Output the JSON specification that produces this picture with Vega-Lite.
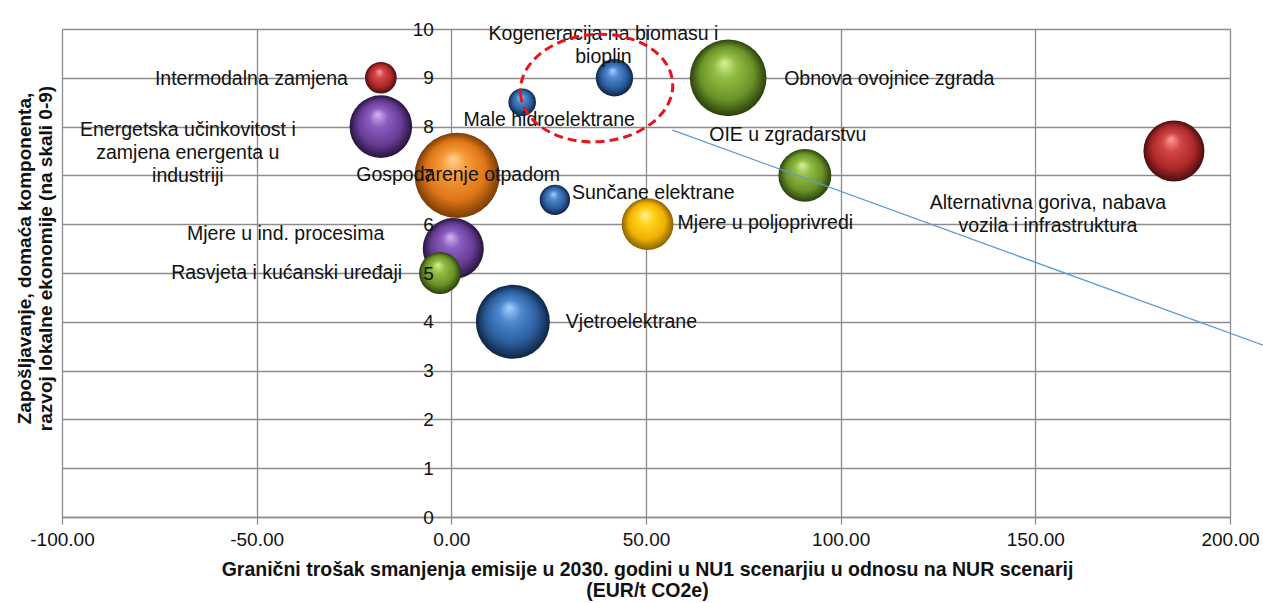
{
  "$schema": "https://vega.github.io/schema/vega-lite/v6.json",
  "width": 1168,
  "height": 488,
  "autosize": {"type": "none"},
  "padding": {"left": 62, "top": 29, "right": 33, "bottom": 86},
  "background": "white",
  "config": {
    "view": {"stroke": null},
    "font": "Liberation Sans",
    "text": {"fontSize": 19.5, "color": "#111111", "lineHeight": 23, "lineBreak": "\n"},
    "point": {"opacity": 1}
  },
  "datasets": {
    "mjere": [
      {"naziv": "Intermodalna zamjena", "sektor": "promet", "x": -18.1, "y": 9, "velicina": 2.5},
      {"naziv": "Energetska učinkovitost i\nzamjena energenta u\nindustriji", "sektor": "industrija", "x": -18.1, "y": 8, "velicina": 9.8},
      {"naziv": "Kogeneracija na biomasu i\nbioplin", "sektor": "energetika", "x": 41.9, "y": 9, "velicina": 3.5},
      {"naziv": "Male hidroelektrane", "sektor": "energetika", "x": 18.2, "y": 8.5, "velicina": 1.9},
      {"naziv": "Obnova ovojnice zgrada", "sektor": "zgradarstvo", "x": 71.1, "y": 9, "velicina": 14.7},
      {"naziv": "OIE u zgradarstvu", "sektor": "zgradarstvo", "x": 90.8, "y": 7, "velicina": 7.0},
      {"naziv": "Alternativna goriva, nabava\nvozila i infrastruktura", "sektor": "promet", "x": 185.6, "y": 7.5, "velicina": 9.3},
      {"naziv": "Gospodarenje otpadom", "sektor": "otpad", "x": 1.5, "y": 7, "velicina": 18.1},
      {"naziv": "Sunčane elektrane", "sektor": "energetika", "x": 26.6, "y": 6.5, "velicina": 2.3},
      {"naziv": "Mjere u poljoprivredi", "sektor": "poljoprivreda", "x": 50.4, "y": 6, "velicina": 6.7},
      {"naziv": "Mjere u ind. procesima", "sektor": "industrija", "x": 0.5, "y": 5.5, "velicina": 9.3},
      {"naziv": "Rasvjeta i kućanski uređaji", "sektor": "zgradarstvo", "x": -2.9, "y": 5, "velicina": 4.4},
      {"naziv": "Vjetroelektrane", "sektor": "energetika", "x": 15.8, "y": 4, "velicina": 13.7}
    ],
    "elipsa": [{"x": 37.3, "y": 8.79}],
    "linija": [{"x": 56.8, "y": 7.93}, {"x": 208.5, "y": 3.52}]
  },
  "encoding": {
    "x": {
      "field": "x", "type": "quantitative",
      "scale": {"domain": [-100, 200], "nice": false, "zero": false},
      "axis": {
        "values": [-100, -50, 0, 50, 100, 150, 200],
        "labelExpr": "(datum.value < 0 ? '-' : '') + format(abs(datum.value), '.2f')",
        "grid": true, "gridColor": "#8c8c8c", "gridWidth": 1.3,
        "domain": true, "domainColor": "#8c8c8c", "domainWidth": 1.3,
        "ticks": true, "tickColor": "#8c8c8c", "tickSize": 7, "tickWidth": 1.3,
        "labelFontSize": 19, "labelColor": "#111111", "labelPadding": 6, "labelFlush": false, "labelOverlap": false,
        "title": ["Granični trošak smanjenja emisije u 2030. godini u NU1 scenarjiu u odnosu na NUR scenarij", "(EUR/t CO2e)"],
        "titleFontSize": 19.5, "titleFontWeight": "bold", "titleColor": "#111111", "titleLineHeight": 21,
        "titleBaseline": "top", "titleAlign": "center", "titleX": 585, "titleY": 43
      }
    },
    "y": {"field": "y", "type": "quantitative", "scale": {"domain": [0, 10], "nice": false}, "axis": null}
  },
  "layer": [
    {
      "data": {"name": "mjere"},
      "transform": [{"filter": {"field": "sektor", "equal": "otpad"}}],
      "mark": {"type": "point", "shape": "circle", "filled": true, "opacity": 1,
        "fill": {"gradient": "radial", "x1": 0.45, "y1": 0.3, "r1": 0, "x2": 0.5, "y2": 0.5, "r2": 0.5,
          "stops": [{"offset": 0, "color": "#ffd294"}, {"offset": 0.3, "color": "#f59a38"}, {"offset": 0.7, "color": "#de7616"}, {"offset": 1, "color": "#7a3c06"}]}},
      "encoding": {
        "y": {"field": "y", "type": "quantitative", "scale": {"domain": [0, 10], "nice": false},
          "axis": {"orient": "left", "values": [0, 1, 2, 3, 4, 5, 6, 7, 8, 9, 10],
            "grid": true, "gridColor": "#8c8c8c", "gridWidth": 1.3,
            "labels": false, "ticks": false, "domain": false,
            "title": ["Zapošljavanje, domaća komponenta,", "razvoj lokalne ekonomije (na skali 0-9)"],
            "titleFontSize": 19, "titleFontWeight": "bold", "titleColor": "#111111", "titleLineHeight": 21,
            "titleAngle": -90, "titleBaseline": "middle", "titleAlign": "center", "titleX": -38, "titleY": 229}},
        "size": {"field": "velicina", "type": "quantitative", "scale": {"type": "linear", "domain": [0, 20], "range": [0, 8000], "zero": true}, "legend": null}
      }
    },
    {
      "data": {"name": "mjere"},
      "transform": [{"filter": {"field": "sektor", "equal": "industrija"}}],
      "mark": {"type": "point", "shape": "circle", "filled": true, "opacity": 1,
        "fill": {"gradient": "radial", "x1": 0.45, "y1": 0.3, "r1": 0, "x2": 0.5, "y2": 0.5, "r2": 0.5,
          "stops": [{"offset": 0, "color": "#d6b6f2"}, {"offset": 0.3, "color": "#8a5ec0"}, {"offset": 0.7, "color": "#663c94"}, {"offset": 1, "color": "#28143e"}]}},
      "encoding": {
        "size": {"field": "velicina", "type": "quantitative", "scale": {"type": "linear", "domain": [0, 20], "range": [0, 8000], "zero": true}, "legend": null}
      }
    },
    {
      "data": {"name": "mjere"},
      "transform": [{"filter": {"field": "sektor", "equal": "zgradarstvo"}}],
      "mark": {"type": "point", "shape": "circle", "filled": true, "opacity": 1,
        "fill": {"gradient": "radial", "x1": 0.45, "y1": 0.3, "r1": 0, "x2": 0.5, "y2": 0.5, "r2": 0.5,
          "stops": [{"offset": 0, "color": "#d8f09c"}, {"offset": 0.3, "color": "#92bd44"}, {"offset": 0.7, "color": "#6a9228"}, {"offset": 1, "color": "#2a400c"}]}},
      "encoding": {
        "size": {"field": "velicina", "type": "quantitative", "scale": {"type": "linear", "domain": [0, 20], "range": [0, 8000], "zero": true}, "legend": null}
      }
    },
    {
      "data": {"name": "mjere"},
      "transform": [{"filter": {"field": "sektor", "equal": "energetika"}}],
      "mark": {"type": "point", "shape": "circle", "filled": true, "opacity": 1,
        "fill": {"gradient": "radial", "x1": 0.45, "y1": 0.3, "r1": 0, "x2": 0.5, "y2": 0.5, "r2": 0.5,
          "stops": [{"offset": 0, "color": "#aad2ff"}, {"offset": 0.3, "color": "#4d88cf"}, {"offset": 0.7, "color": "#2b5d9c"}, {"offset": 1, "color": "#0f2444"}]}},
      "encoding": {
        "size": {"field": "velicina", "type": "quantitative", "scale": {"type": "linear", "domain": [0, 20], "range": [0, 8000], "zero": true}, "legend": null}
      }
    },
    {
      "data": {"name": "mjere"},
      "transform": [{"filter": {"field": "sektor", "equal": "promet"}}],
      "mark": {"type": "point", "shape": "circle", "filled": true, "opacity": 1,
        "fill": {"gradient": "radial", "x1": 0.45, "y1": 0.3, "r1": 0, "x2": 0.5, "y2": 0.5, "r2": 0.5,
          "stops": [{"offset": 0, "color": "#ff9e9e"}, {"offset": 0.3, "color": "#d24646"}, {"offset": 0.7, "color": "#ad2828"}, {"offset": 1, "color": "#4a0e0e"}]}},
      "encoding": {
        "size": {"field": "velicina", "type": "quantitative", "scale": {"type": "linear", "domain": [0, 20], "range": [0, 8000], "zero": true}, "legend": null}
      }
    },
    {
      "data": {"name": "mjere"},
      "transform": [{"filter": {"field": "sektor", "equal": "poljoprivreda"}}],
      "mark": {"type": "point", "shape": "circle", "filled": true, "opacity": 1,
        "fill": {"gradient": "radial", "x1": 0.45, "y1": 0.3, "r1": 0, "x2": 0.5, "y2": 0.5, "r2": 0.5,
          "stops": [{"offset": 0, "color": "#fff3a4"}, {"offset": 0.3, "color": "#ffd21e"}, {"offset": 0.7, "color": "#efb200"}, {"offset": 1, "color": "#8a6200"}]}},
      "encoding": {
        "size": {"field": "velicina", "type": "quantitative", "scale": {"type": "linear", "domain": [0, 20], "range": [0, 8000], "zero": true}, "legend": null}
      }
    },
    {"data": {"name": "mjere"}, "transform": [{"filter": {"field": "naziv", "equal": "Intermodalna zamjena"}}],
      "mark": {"type": "text", "align": "right", "baseline": "middle", "dx": -33, "dy": 1}, "encoding": {"text": {"field": "naziv"}}},
    {"data": {"name": "mjere"}, "transform": [{"filter": {"field": "naziv", "equal": "Energetska učinkovitost i\nzamjena energenta u\nindustriji"}}],
      "mark": {"type": "text", "align": "center", "baseline": "middle", "dx": -193, "dy": 3}, "encoding": {"text": {"field": "naziv"}}},
    {"data": {"name": "mjere"}, "transform": [{"filter": {"field": "naziv", "equal": "Kogeneracija na biomasu i\nbioplin"}}],
      "mark": {"type": "text", "align": "center", "baseline": "middle", "dx": -11, "dy": -44}, "encoding": {"text": {"field": "naziv"}}},
    {"data": {"name": "mjere"}, "transform": [{"filter": {"field": "naziv", "equal": "Male hidroelektrane"}}],
      "mark": {"type": "text", "align": "center", "baseline": "middle", "dx": 27, "dy": 18}, "encoding": {"text": {"field": "naziv"}}},
    {"data": {"name": "mjere"}, "transform": [{"filter": {"field": "naziv", "equal": "Obnova ovojnice zgrada"}}],
      "mark": {"type": "text", "align": "left", "baseline": "middle", "dx": 56, "dy": 1}, "encoding": {"text": {"field": "naziv"}}},
    {"data": {"name": "mjere"}, "transform": [{"filter": {"field": "naziv", "equal": "OIE u zgradarstvu"}}],
      "mark": {"type": "text", "align": "center", "baseline": "middle", "dx": -17, "dy": -40}, "encoding": {"text": {"field": "naziv"}}},
    {"data": {"name": "mjere"}, "transform": [{"filter": {"field": "naziv", "equal": "Alternativna goriva, nabava\nvozila i infrastruktura"}}],
      "mark": {"type": "text", "align": "center", "baseline": "middle", "dx": -126, "dy": 52}, "encoding": {"text": {"field": "naziv"}}},
    {"data": {"name": "mjere"}, "transform": [{"filter": {"field": "naziv", "equal": "Gospodarenje otpadom"}}],
      "mark": {"type": "text", "align": "center", "baseline": "middle", "dx": 1, "dy": 0}, "encoding": {"text": {"field": "naziv"}}},
    {"data": {"name": "mjere"}, "transform": [{"filter": {"field": "naziv", "equal": "Sunčane elektrane"}}],
      "mark": {"type": "text", "align": "left", "baseline": "middle", "dx": 17, "dy": -7}, "encoding": {"text": {"field": "naziv"}}},
    {"data": {"name": "mjere"}, "transform": [{"filter": {"field": "naziv", "equal": "Mjere u poljoprivredi"}}],
      "mark": {"type": "text", "align": "left", "baseline": "middle", "dx": 30, "dy": -1}, "encoding": {"text": {"field": "naziv"}}},
    {"data": {"name": "mjere"}, "transform": [{"filter": {"field": "naziv", "equal": "Mjere u ind. procesima"}}],
      "mark": {"type": "text", "align": "right", "baseline": "middle", "dx": -69, "dy": -15}, "encoding": {"text": {"field": "naziv"}}},
    {"data": {"name": "mjere"}, "transform": [{"filter": {"field": "naziv", "equal": "Rasvjeta i kućanski uređaji"}}],
      "mark": {"type": "text", "align": "right", "baseline": "middle", "dx": -38, "dy": 0}, "encoding": {"text": {"field": "naziv"}}},
    {"data": {"name": "mjere"}, "transform": [{"filter": {"field": "naziv", "equal": "Vjetroelektrane"}}],
      "mark": {"type": "text", "align": "left", "baseline": "middle", "dx": 53, "dy": 0}, "encoding": {"text": {"field": "naziv"}}},
    {
      "data": {"name": "elipsa"},
      "mark": {"type": "point", "shape": "M-1,0A1,0.704,0,1,0,1,0A1,0.704,0,1,0,-1,0Z", "filled": false, "fill": null,
        "stroke": "#e8141c", "strokeWidth": 3, "strokeDash": [9, 5], "opacity": 1, "angle": -4, "size": 23287},
      "encoding": {}
    },
    {
      "data": {"name": "linija"},
      "mark": {"type": "line", "color": "#5b9bd5", "strokeWidth": 1.3},
      "encoding": {
        "y": {"field": "y", "type": "quantitative", "scale": {"domain": [0, 10], "nice": false},
          "axis": {"orient": "left", "offset": -389.3, "values": [0, 1, 2, 3, 4, 5, 6, 7, 8, 9, 10],
            "grid": false, "domain": false, "ticks": false, "labels": true,
            "labelFontSize": 19, "labelColor": "#111111", "labelPadding": 18, "labelFlush": false, "labelOverlap": false,
            "title": null, "zindex": 1}}
      }
    }
  ],
  "resolve": {"axis": {"y": "independent"}}
}
